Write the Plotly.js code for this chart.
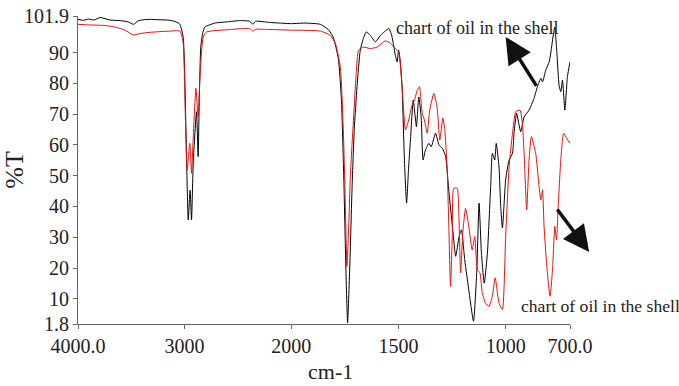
<!DOCTYPE html>
<html><head><meta charset="utf-8">
<script src="https://cdn.plot.ly/plotly-3.0.1.min.js"></script>
<style>html,body{margin:0;padding:0;background:#fff}#chart{width:679px;height:386px}</style>
</head><body><div id="chart"></div>
<script>
// Wavenumbers (cm-1) and %T for the two spectra
const blackWn = [4000,3950,3900,3850,3792,3700,3605,3530,3480,3436,3380,3324,3250,3137,3080,3044,3013,2997,2978,2966,2948,2935,2918,2888,2873,2862,2848,2829,2810,2717,2600,2483,2390,2359,2334,2203,2100,2000,1935,1864,1827,1804,1780,1766,1755,1745,1737,1727,1716,1706,1693,1678,1664,1650,1631,1607,1584,1565,1545,1533,1522,1514,1506,1499,1491,1483,1472,1462,1453,1444,1431,1423,1416,1405,1394,1385,1374,1358,1347,1327,1311,1295,1280,1264,1248,1233,1217,1206,1191,1170,1150,1135,1124,1113,1100,1085,1070,1062,1051,1044,1031,1023,1015,1000,984,968,961,949,930,914,891,868,852,836,828,813,797,789,777,771,761,751,743,735,724,712,700];
const blackT = [100.8,100.5,100.9,100.6,101.4,100.6,100.4,100.0,99.2,100.3,100.7,100.8,100.7,100.5,100.0,99.2,95,80,50,35.6,45.3,35.6,55,70.8,56.2,75,92,96.5,98.3,99.6,100.0,100.4,100.2,99.2,100.2,99.8,99.6,99.4,99.6,99.2,97.5,95,88,75,50,20,2.2,20,46.4,65,78.9,90.8,94.5,96.7,95.6,93.5,95.6,96.8,97.8,96,92.2,89,87,90.8,87,78.9,55,41.1,52,61.6,74.6,70,65.9,75.6,69.1,55.1,58.3,60.5,59.4,63.8,60,58.9,56.2,44.3,33.5,23.8,30.2,32.4,22.7,11.9,2.7,18.4,41.1,24.9,15.1,24.9,46.4,57.3,55.1,60.5,52.8,40,33,48.6,55.1,57.3,63.8,70.3,64.3,69.1,71.3,75.1,78.9,81.6,80.5,84.3,87,90.2,96.2,98.3,89.7,79.4,77.3,81.1,71.3,82.2,87];
const redWn = [4000,3900,3800,3744,3651,3558,3480,3418,3324,3137,3044,3013,2997,2976,2951,2935,2920,2894,2873,2857,2826,2794,2577,2390,2359,2334,2200,2000,1864,1818,1794,1771,1757,1748,1740,1731,1724,1709,1696,1686,1662,1631,1600,1561,1537,1514,1499,1483,1467,1452,1436,1425,1412,1402,1389,1379,1366,1354,1335,1320,1307,1293,1284,1273,1265,1257,1249,1242,1226,1218,1210,1200,1187,1172,1156,1144,1132,1120,1109,1094,1078,1062,1049,1031,1015,1000,984,968,953,933,922,914,902,891,880,860,844,836,828,821,808,793,781,771,763,755,743,730,715,700];
const redT = [99.2,99.0,98.9,98.8,98.3,97.3,95.7,96.2,96.6,97.0,97.0,93,75,51.9,60.5,50.8,61.6,78.4,69.1,81.1,95,96.7,97.5,97.8,97.0,97.6,97.5,97.3,97.0,95.6,93,85.4,65,42.1,20.5,35,50,69.1,84,90.8,91.8,91.3,91.8,93.8,93,91.3,90.2,78.9,64.9,68.1,73,74.6,77.8,78.9,70.3,68.1,63.8,71.3,76.7,72.4,61.6,68.7,64.9,52.8,33.5,14,30.2,45.9,45.9,36.6,18.4,31.3,39.4,33.5,25.9,30.2,19.4,18.4,11.9,8.6,7.5,10.8,16.8,8.6,6.5,30.2,52.8,63.8,70.8,71.3,67,57.3,38.9,55,62.7,57.3,46.4,42.1,45.4,33.5,20.5,10.8,20,33.5,29.2,40,55.1,63.8,62.1,60.5];

const breakWn = 2000;
const xTickValsHigh = [4000,3000,2000];
const xTickTextHigh = ['4000.0','3000','2000'];
const xTickValsLow = [1500,1000,700];
const xTickTextLow = ['1500','1000','700.0'];
const yTickVals = [1.8,10,20,30,40,50,60,70,80,90,101.9];
const yTickText = ['1.8','10','20','30','40','50','60','70','80','90','101.9'];
const annText = 'chart of oil in the shell';

function part(wn, t, high){
  const x=[], y=[];
  for(let i=0;i<wn.length;i++){
    if(high ? wn[i]>=breakWn : wn[i]<=breakWn){x.push(wn[i]); y.push(t[i]);}
  }
  return {x, y};
}
function trace(wn, t, high, color){
  const p = part(wn, t, high);
  return {x:p.x, y:p.y, xaxis: high?'x':'x2', yaxis:'y', type:'scatter', mode:'lines',
    line:{color:color, width:1, shape:'spline', smoothing:0.5}, hoverinfo:'skip', showlegend:false};
}
const data = [
  trace(blackWn, blackT, true, '#000000'),
  trace(blackWn, blackT, false, '#000000'),
  trace(redWn, redT, true, '#e3140f'),
  trace(redWn, redT, false, '#e3140f')
];
const serif = '"Liberation Serif", "Times New Roman", serif';
const tickFont = {family: serif, size: 20, color:'#222'};
const axCommon = {showline:true, linecolor:'#666', linewidth:1, ticks:'outside', ticklen:4, tickcolor:'#666',
  showgrid:false, zeroline:false, tickfont: tickFont, tickmode:'array', fixedrange:true};
const brk = 0.4333;
const layout = {
  width:679, height:386, margin:{l:78, r:109, t:16, b:62},
  paper_bgcolor:'#fff', plot_bgcolor:'#fff', showlegend:false,
  xaxis: Object.assign({}, axCommon, {domain:[0,brk], range:[4000,2000], anchor:'y', tickvals:xTickValsHigh, ticktext:xTickTextHigh}),
  xaxis2: Object.assign({}, axCommon, {domain:[brk,1], range:[2000,700], anchor:'y', tickvals:xTickValsLow, ticktext:xTickTextLow}),
  yaxis: Object.assign({}, axCommon, {range:[1.8,101.9], tickvals:yTickVals, ticktext:yTickText,
    title:{text:'%T', font:{family:serif, size:26, color:'#222'}, standoff:4}}),
  annotations:[
    {xref:'paper', yref:'paper', x:0.5125, y:-0.154, text:'cm-1', showarrow:false, xanchor:'center', yanchor:'middle',
      font:{family:serif, size:22, color:'#222'}},
    {xref:'paper', yref:'paper', x:0.643, y:0.960, text:annText, showarrow:false, xanchor:'left', yanchor:'middle',
      font:{family:serif, size:18, color:'#222'}},
    {xref:'paper', yref:'paper', x:0.897, y:0.0596, text:annText, showarrow:false, xanchor:'left', yanchor:'middle',
      font:{family:serif, size:17.6, color:'#222'}},
    {xref:'x2', yref:'y', x:1000, y:95.1, axref:'x2', ayref:'y', ax:852, ay:78.7, text:'', showarrow:true,
      arrowhead:2, arrowsize:1.5, arrowwidth:3.5, arrowcolor:'#111', standoff:0},
    {xref:'paper', yref:'paper', x:1.039, y:0.2336, ax:-33, ay:-44, text:'', showarrow:true,
      arrowhead:2, arrowsize:1.5, arrowwidth:3.5, arrowcolor:'#111', standoff:0}
  ]
};
Plotly.newPlot('chart', data, layout, {staticPlot:true, displayModeBar:false});
</script>
</body></html>
